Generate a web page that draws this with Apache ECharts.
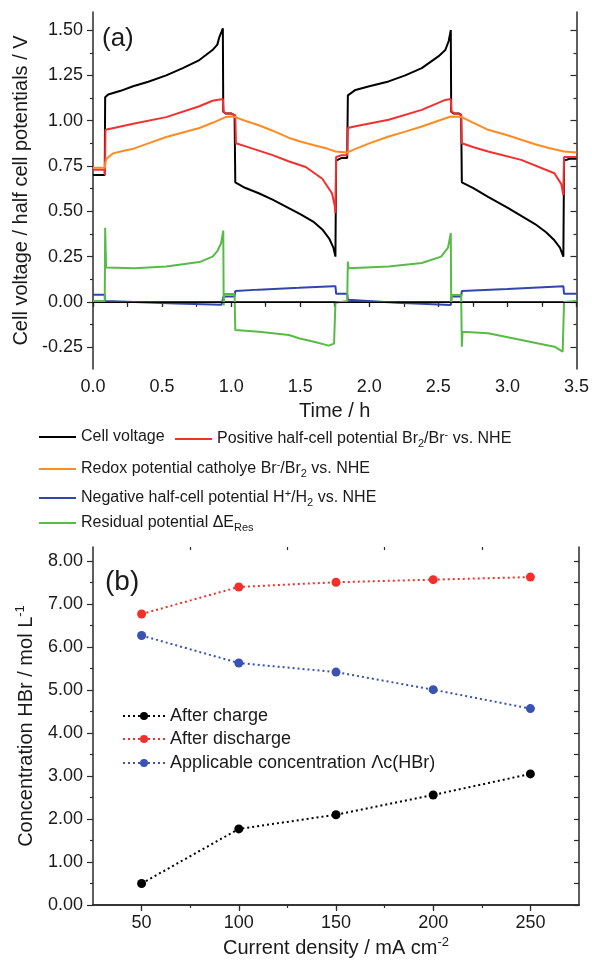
<!DOCTYPE html>
<html><head><meta charset="utf-8">
<script src="https://cdn.jsdelivr.net/npm/echarts@6/dist/echarts.min.js"></script>
<style>html,body{margin:0;padding:0;background:#fff}#c{width:592px;height:969px}</style>
</head><body><div id="c"></div>
<script>
// ---------- (a) time series, [time h, potential V] ----------
const cellVoltage = [[0,0.70],[0.085,0.70],[0.088,1.13],[0.11,1.145],[0.2,1.165],[0.29,1.19],[0.4,1.215],[0.53,1.25],[0.65,1.29],[0.77,1.335],[0.865,1.39],[0.9,1.42],[0.914,1.46],[0.93,1.49],[0.94,1.51],[0.943,1.05],[0.96,1.04],[1.0,1.04],[1.025,1.03],[1.03,0.66],[1.1,0.63],[1.2,0.60],[1.3,0.565],[1.4,0.525],[1.5,0.485],[1.6,0.44],[1.66,0.40],[1.71,0.35],[1.74,0.30],[1.755,0.25],[1.76,0.78],[1.8,0.795],[1.84,0.795],[1.845,1.14],[1.9,1.17],[2.0,1.19],[2.14,1.217],[2.26,1.25],[2.38,1.29],[2.5,1.355],[2.55,1.39],[2.575,1.44],[2.59,1.50],[2.593,1.05],[2.61,1.04],[2.65,1.04],[2.665,1.03],[2.67,0.66],[2.75,0.63],[2.86,0.58],[3.0,0.52],[3.1,0.475],[3.2,0.43],[3.28,0.385],[3.34,0.34],[3.38,0.30],[3.405,0.25],[3.41,0.78],[3.45,0.79],[3.5,0.79]];
const positiveHalf = [[0,0.73],[0.085,0.73],[0.087,0.70],[0.09,0.95],[0.15,0.96],[0.3,0.985],[0.53,1.02],[0.77,1.08],[0.865,1.11],[0.94,1.12],[0.945,1.05],[0.96,1.04],[1.0,1.04],[1.03,1.03],[1.035,0.876],[1.1,0.86],[1.2,0.835],[1.3,0.81],[1.42,0.775],[1.54,0.745],[1.66,0.68],[1.73,0.60],[1.75,0.53],[1.755,0.49],[1.76,0.80],[1.8,0.81],[1.84,0.81],[1.845,0.96],[1.9,0.97],[2.14,1.005],[2.38,1.06],[2.55,1.115],[2.59,1.12],[2.595,1.05],[2.62,1.04],[2.665,1.035],[2.67,0.876],[2.75,0.855],[2.86,0.83],[3.1,0.784],[3.34,0.71],[3.39,0.65],[3.405,0.59],[3.41,0.80],[3.5,0.80]];
const redoxCatholyte = [[0,0.74],[0.085,0.74],[0.09,0.77],[0.098,0.79],[0.146,0.82],[0.2,0.83],[0.29,0.845],[0.4,0.875],[0.53,0.91],[0.65,0.935],[0.77,0.96],[0.87,0.99],[0.93,1.01],[0.96,1.02],[1.0,1.023],[1.03,1.02],[1.1,1.0],[1.2,0.975],[1.3,0.945],[1.42,0.905],[1.5,0.885],[1.6,0.865],[1.7,0.845],[1.755,0.83],[1.76,0.825],[1.84,0.825],[1.9,0.845],[2.0,0.875],[2.14,0.913],[2.26,0.94],[2.38,0.968],[2.5,1.0],[2.59,1.023],[2.67,1.02],[2.75,0.99],[2.86,0.95],[3.0,0.92],[3.1,0.895],[3.2,0.87],[3.3,0.85],[3.41,0.83],[3.42,0.825],[3.5,0.825]];
const negativeHalf = [[0,0.04],[0.085,0.04],[0.088,0.005],[0.3,0.0],[0.6,-0.008],[0.93,-0.015],[0.94,-0.015],[0.945,0.03],[1.025,0.03],[1.03,0.06],[1.2,0.068],[1.49,0.078],[1.74,0.087],[1.755,0.087],[1.76,0.045],[1.84,0.045],[1.845,0.012],[2.2,-0.005],[2.59,-0.017],[2.595,0.03],[2.665,0.03],[2.67,0.06],[3.0,0.072],[3.405,0.087],[3.41,0.045],[3.5,0.045]];
const residual = [[0,0.005],[0.085,0.005],[0.088,0.41],[0.095,0.19],[0.1,0.186],[0.3,0.186],[0.53,0.195],[0.77,0.22],[0.866,0.25],[0.9,0.28],[0.927,0.324],[0.943,0.394],[0.946,-0.02],[0.95,0.044],[1.025,0.044],[1.03,-0.155],[1.2,-0.165],[1.418,-0.182],[1.49,-0.20],[1.6,-0.22],[1.706,-0.241],[1.745,-0.23],[1.755,-0.005],[1.84,0.005],[1.845,0.223],[1.85,0.186],[2.14,0.195],[2.38,0.215],[2.52,0.25],[2.57,0.30],[2.59,0.38],[2.593,0.0],[2.6,0.038],[2.665,0.038],[2.67,-0.247],[2.675,-0.164],[2.86,-0.173],[3.1,-0.21],[3.34,-0.247],[3.40,-0.274],[3.41,0.0],[3.5,0.005]];

// ---------- (b) concentration data ----------
const currentDensity = [50, 100, 150, 200, 250];
const afterCharge = [0.50, 1.77, 2.10, 2.56, 3.05];
const afterDischarge = [6.77, 7.40, 7.51, 7.57, 7.63];
const applicableConc = [6.27, 5.63, 5.42, 5.01, 4.57];

// ---------- tick values ----------
const voltTicks = [-0.25, 0, 0.25, 0.5, 0.75, 1, 1.25, 1.5];
const voltMinorTicks = [-0.125, 0.125, 0.375, 0.625, 0.875, 1.125, 1.375];
const concTicks = [0, 1, 2, 3, 4, 5, 6, 7, 8];
const concMinorTicks = [0.5, 1.5, 2.5, 3.5, 4.5, 5.5, 6.5, 7.5];
const cdTicks = [50, 100, 150, 200, 250];
const cdMinorTicks = [75, 125, 175, 225];

const FONT = "'Liberation Sans', Arial, sans-serif";
const TXT = '#1a1a1a';
const AX = '#2a2a2a';

const names = {
  cv: 'Cell voltage',
  pos: 'Positive half-cell potential Br2/Br- vs. NHE',
  red: 'Redox potential catholye Br-/Br2 vs. NHE',
  neg: 'Negative half-cell potential H+/H2 vs. NHE',
  res: 'Residual potential ΔERes',
  ac: 'After charge',
  ad: 'After discharge',
  apc: 'Applicable concentration Λc(HBr)'
};
const richNames = {};
richNames[names.cv] = '{n|Cell voltage}';
richNames[names.pos] = '{n|Positive half-cell potential Br}{sub|2}{n|/Br}{sup|-}{n| vs. NHE}';
richNames[names.red] = '{n|Redox potential catholye Br}{sup|-}{n|/Br}{sub|2}{n| vs. NHE}';
richNames[names.neg] = '{n|Negative half-cell potential H}{sup|+}{n|/H}{sub|2}{n| vs. NHE}';
richNames[names.res] = '{n|Residual potential ΔE}{sub|Res}';

const richA = {
  n: {fontSize: 16, lineHeight: 20, fontFamily: FONT, color: TXT},
  sub: {fontSize: 11, lineHeight: 11, verticalAlign: 'bottom', fontFamily: FONT, color: TXT},
  sup: {fontSize: 11, lineHeight: 11, verticalAlign: 'top', fontFamily: FONT, color: TXT}
};

function legA(name, left, cy) {
  return {
    data: [name], left: left, top: cy - 10, padding: 0, itemGap: 0,
    icon: 'rect', itemWidth: 37, itemHeight: 2, selectedMode: false,
    formatter: n => richNames[n], textStyle: {rich: richA, fontSize: 16, fontFamily: FONT, color: TXT}
  };
}
function legB(name, cy) {
  return {
    data: [name], left: 122, top: cy - 10, padding: 0, itemGap: 0,
    itemWidth: 42, itemHeight: 10, selectedMode: false,
    textStyle: {fontSize: 18, lineHeight: 20, fontFamily: FONT, color: TXT}
  };
}

const lineAx = {show: true, lineStyle: {color: AX, width: 1.5}};
function tickCfg(len, inside, vals) {
  const t = {show: true, length: len, inside: inside, lineStyle: {color: AX, width: 1.2}};
  if (vals) t.customValues = vals;
  return t;
}
const noLabel = {show: false};

function mkSeriesA(name, data, color) {
  return {name: name, type: 'line', xAxisIndex: 0, yAxisIndex: 0, data: data, showSymbol: false,
    symbol: 'none', lineStyle: {color: color, width: 2}, itemStyle: {color: color}, animation: false};
}
function mkSeriesB(name, vals, color) {
  return {name: name, type: 'line', xAxisIndex: 2, yAxisIndex: 4,
    data: currentDensity.map((x, i) => [x, vals[i]]),
    symbol: 'circle', symbolSize: 9, lineStyle: {color: color, width: 2, type: [2, 3]},
    itemStyle: {color: color}, animation: false};
}

const option = {
  animation: false,
  textStyle: {fontFamily: FONT},
  grid: [
    {left: 93, top: 12, width: 486, height: 357},
    {left: 93, top: 547, width: 486, height: 358}
  ],
  xAxis: [
    {gridIndex: 0, type: 'value', position: 'bottom', min: 0, max: 3.5, interval: 0.5,
      axisLine: lineAx, axisTick: tickCfg(5, false),
      minorTick: {show: true, splitNumber: 2, length: 3, lineStyle: {color: AX, width: 1.2}},
      splitLine: {show: false},
      axisLabel: {fontSize: 18, color: TXT, margin: 9, fontFamily: FONT, formatter: v => v.toFixed(1)},
      name: 'Time / h', nameLocation: 'middle', nameGap: 32,
      nameTextStyle: {fontSize: 20, color: TXT, fontFamily: FONT}},
    {gridIndex: 0, type: 'value', position: 'top', min: 0, max: 3.5, interval: 0.25,
      axisLine: lineAx, axisTick: tickCfg(5, true), splitLine: {show: false}, axisLabel: noLabel},
    {gridIndex: 1, type: 'value', position: 'bottom', min: 25, max: 275,
      axisLine: lineAx, axisTick: tickCfg(5, false, cdTicks), splitLine: {show: false},
      axisLabel: {customValues: cdTicks, fontSize: 18, color: TXT, margin: 9, fontFamily: FONT},
      name: '{n|Current density / mA cm}{sup|-2}', nameLocation: 'middle', nameGap: 31,
      nameTextStyle: {fontSize: 20, color: TXT, fontFamily: FONT, rich: {
        n: {fontSize: 20, lineHeight: 24, fontFamily: FONT, color: TXT},
        sup: {fontSize: 13, lineHeight: 13, verticalAlign: 'top', fontFamily: FONT, color: TXT}}}},
    {gridIndex: 1, type: 'value', position: 'bottom', min: 25, max: 275,
      axisLine: {show: false}, axisTick: tickCfg(3, false, cdMinorTicks), splitLine: {show: false},
      axisLabel: {show: false, customValues: cdMinorTicks}},
    {gridIndex: 1, type: 'value', position: 'top', min: 25, max: 275,
      axisLine: lineAx, axisTick: tickCfg(6, true, cdTicks), splitLine: {show: false},
      axisLabel: {show: false, customValues: cdTicks}},
    {gridIndex: 1, type: 'value', position: 'top', min: 25, max: 275,
      axisLine: {show: false}, axisTick: tickCfg(3, true, cdMinorTicks), splitLine: {show: false},
      axisLabel: {show: false, customValues: cdMinorTicks}}
  ],
  yAxis: [
    {gridIndex: 0, type: 'value', position: 'left', min: -0.37, max: 1.6,
      axisLine: lineAx, axisTick: tickCfg(6, false, voltTicks), splitLine: {show: false},
      axisLabel: {customValues: voltTicks, fontSize: 18, color: TXT, margin: 10, fontFamily: FONT, formatter: v => v.toFixed(2)},
      name: 'Cell voltage / half cell potentials / V', nameLocation: 'middle', nameGap: 56, nameRotate: 90,
      nameTextStyle: {fontSize: 20, color: TXT, fontFamily: FONT}},
    {gridIndex: 0, type: 'value', position: 'left', min: -0.37, max: 1.6,
      axisLine: {show: false}, axisTick: tickCfg(3, false, voltMinorTicks), splitLine: {show: false},
      axisLabel: {show: false, customValues: voltMinorTicks}},
    {gridIndex: 0, type: 'value', position: 'right', min: -0.37, max: 1.6,
      axisLine: lineAx, axisTick: tickCfg(6, true, voltTicks), splitLine: {show: false},
      axisLabel: {show: false, customValues: voltTicks}},
    {gridIndex: 0, type: 'value', position: 'right', min: -0.37, max: 1.6,
      axisLine: {show: false}, axisTick: tickCfg(3, true, voltMinorTicks), splitLine: {show: false},
      axisLabel: {show: false, customValues: voltMinorTicks}},
    {gridIndex: 1, type: 'value', position: 'left', min: 0, max: 8.33,
      axisLine: lineAx, axisTick: tickCfg(6, false, concTicks), splitLine: {show: false},
      axisLabel: {customValues: concTicks, fontSize: 18, color: TXT, margin: 10, fontFamily: FONT, formatter: v => v.toFixed(2)},
      name: '{n|Concentration HBr / mol L}{sup|-1}', nameLocation: 'middle', nameGap: 55, nameRotate: 90,
      nameTextStyle: {fontSize: 20, color: TXT, fontFamily: FONT, rich: {
        n: {fontSize: 20, lineHeight: 24, fontFamily: FONT, color: TXT},
        sup: {fontSize: 13, lineHeight: 13, verticalAlign: 'top', fontFamily: FONT, color: TXT}}}},
    {gridIndex: 1, type: 'value', position: 'left', min: 0, max: 8.33,
      axisLine: {show: false}, axisTick: tickCfg(3, false, concMinorTicks), splitLine: {show: false},
      axisLabel: {show: false, customValues: concMinorTicks}},
    {gridIndex: 1, type: 'value', position: 'right', min: 0, max: 8.33,
      axisLine: lineAx, axisTick: tickCfg(5, true, concTicks.concat(concMinorTicks)), splitLine: {show: false},
      axisLabel: {show: false, customValues: concTicks.concat(concMinorTicks)}}
  ],
  legend: [
    legA(names.cv, 39, 439),
    legA(names.pos, 175, 439),
    legA(names.red, 39, 469),
    legA(names.neg, 39, 498),
    legA(names.res, 39, 525),
    legB(names.ac, 716),
    legB(names.ad, 739),
    legB(names.apc, 763)
  ],
  graphic: [
    {type: 'text', left: 102, top: 26, style: {text: '(a)', fontSize: 26, fontFamily: FONT, fill: TXT}},
    {type: 'text', left: 105, top: 568, style: {text: '(b)', fontSize: 28, fontFamily: FONT, fill: TXT}}
  ],
  series: [
    Object.assign(mkSeriesA(names.cv, cellVoltage, '#000000'), {
      markLine: {silent: true, symbol: 'none', animation: false, label: {show: false},
        lineStyle: {color: '#000', width: 1.2, type: 'solid'}, data: [{yAxis: 0}]}
    }),
    mkSeriesA(names.pos, positiveHalf, '#f23030'),
    mkSeriesA(names.red, redoxCatholyte, '#ff8b22'),
    mkSeriesA(names.neg, negativeHalf, '#3346a8'),
    mkSeriesA(names.res, residual, '#58bb48'),
    mkSeriesB(names.ac, afterCharge, '#000000'),
    mkSeriesB(names.ad, afterDischarge, '#f2302b'),
    mkSeriesB(names.apc, applicableConc, '#3a52b2')
  ]
};

const chart = echarts.init(document.getElementById('c'), null, {renderer: 'canvas'});
chart.setOption(option);
</script>
</body></html>
